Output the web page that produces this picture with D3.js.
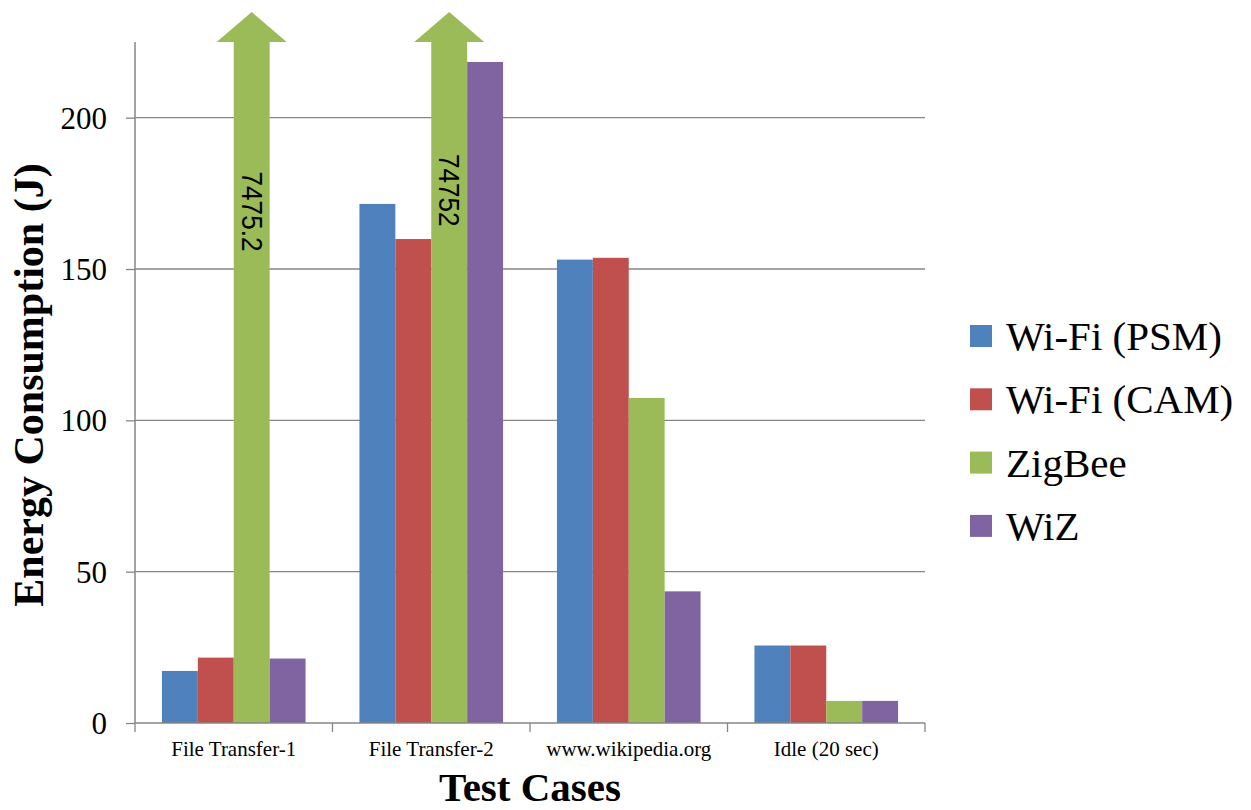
<!DOCTYPE html>
<html>
<head>
<meta charset="utf-8">
<script src="https://cdn.jsdelivr.net/npm/d3@7"></script>
<style>
  html, body { margin: 0; padding: 0; background: #fff; }
  svg { display: block; }
  text { fill: #000; }
</style>
</head>
<body>
<svg id="chart" width="1251" height="810"></svg>
<script>
// Test cases on the x axis
const categories = ["File Transfer-1", "File Transfer-2", "www.wikipedia.org", "Idle (20 sec)"];

// Energy consumption per radio, in joules
const wifiPSM = [17.2, 171.5, 153.1, 25.6];
const wifiCAM = [21.6, 159.9, 153.7, 25.6];
const zigbee  = [7475.2, 74752, 107.4, 7.3];
const wiz     = [21.3, 218.4, 43.5, 7.3];

const seriesNames = ["Wi-Fi (PSM)", "Wi-Fi (CAM)", "ZigBee", "WiZ"];
const seriesValues = [wifiPSM, wifiCAM, zigbee, wiz];
const seriesColors = ["#4F81BD", "#C0504D", "#9BBB59", "#8064A2"];

const yTicks = [0, 50, 100, 150, 200];
const yMax = 225;

const svg = d3.select("#chart");
const plot = { left: 135, right: 925, top: 42, bottom: 723 };
const axisGrey = "#868686";

const x = d3.scaleBand().domain(categories).range([plot.left, plot.right]).padding(0);
const xs = d3.scaleBand().domain(seriesNames).range([0, x.bandwidth()])
  .paddingInner(0).paddingOuter(0.75);
const y = d3.scaleLinear().domain([0, yMax]).range([plot.bottom, plot.top]).clamp(true);

// horizontal gridlines
svg.append("g").selectAll("line")
  .data(yTicks.filter(d => d > 0))
  .join("line")
  .attr("x1", plot.left).attr("x2", plot.right)
  .attr("y1", d => y(d)).attr("y2", d => y(d))
  .attr("stroke", axisGrey).attr("stroke-width", 1.3);

// bars
const rows = [];
seriesValues.forEach((vals, si) => {
  vals.forEach((v, ci) => rows.push({ s: seriesNames[si], c: categories[ci], v, color: seriesColors[si] }));
});

svg.append("g").selectAll("rect")
  .data(rows)
  .join("rect")
  .attr("x", d => x(d.c) + xs(d.s))
  .attr("y", d => y(d.v))
  .attr("width", xs.bandwidth())
  .attr("height", d => y(0) - y(d.v))
  .attr("fill", d => d.color);

// off-scale values get an arrow head and a rotated value label
const overflow = rows.filter(d => d.v > yMax);
const headHalf = 35, headH = 30;
svg.append("g").selectAll("path")
  .data(overflow)
  .join("path")
  .attr("d", d => {
    const cx = x(d.c) + xs(d.s) + xs.bandwidth() / 2;
    const by = y(d.v);
    return `M${cx - headHalf},${by} L${cx},${by - headH} L${cx + headHalf},${by} Z`;
  })
  .attr("fill", d => d.color);

const labelCenter = { "File Transfer-1": 169, "File Transfer-2": 176 };
svg.append("g").selectAll("text")
  .data(overflow)
  .join("text")
  .attr("transform", d => {
    const cx = x(d.c) + xs(d.s) + xs.bandwidth() / 2;
    return `translate(${cx},${y(labelCenter[d.c] || 170)}) rotate(90) scale(0.87,1)`;
  })
  .attr("text-anchor", "middle")
  .attr("dominant-baseline", "central")
  .style("font-family", "'Liberation Sans', Arial, sans-serif")
  .style("font-size", "30px")
  .text(d => String(d.v));

// y axis
const yAxis = d3.axisLeft(y).tickValues(yTicks).tickSize(9).tickPadding(19).tickFormat(d3.format("d"));
const gy = svg.append("g").attr("transform", `translate(${plot.left},0)`).call(yAxis);
gy.select(".domain").remove();
gy.selectAll(".tick line").attr("stroke", axisGrey).attr("stroke-width", 1.3);
gy.selectAll(".tick text")
  .attr("dy", "0.34em")
  .style("font-family", "'Liberation Serif', 'Times New Roman', serif")
  .style("font-size", "31px")
  .attr("fill", "#000");
svg.append("line")
  .attr("x1", plot.left).attr("x2", plot.left)
  .attr("y1", plot.top).attr("y2", plot.bottom)
  .attr("stroke", axisGrey).attr("stroke-width", 1.5);

// x axis
const xAxis = d3.axisBottom(x).tickSize(0).tickPadding(18);
const gx = svg.append("g").attr("transform", `translate(0,${plot.bottom})`).call(xAxis);
gx.select(".domain").remove();
gx.selectAll(".tick text")
  .style("font-family", "'Liberation Serif', 'Times New Roman', serif")
  .style("font-size", "21px")
  .attr("fill", "#000");
svg.append("line")
  .attr("x1", plot.left).attr("x2", plot.right)
  .attr("y1", plot.bottom).attr("y2", plot.bottom)
  .attr("stroke", axisGrey).attr("stroke-width", 1.5);
const boundaries = categories.map(c => x(c)).concat([x(categories[categories.length - 1]) + x.bandwidth()]);
svg.append("g").selectAll("line")
  .data(boundaries)
  .join("line")
  .attr("x1", d => d).attr("x2", d => d)
  .attr("y1", plot.bottom).attr("y2", plot.bottom + 9)
  .attr("stroke", axisGrey).attr("stroke-width", 1.3);

// axis titles
svg.append("text")
  .attr("transform", `translate(43,385) rotate(-90)`)
  .attr("text-anchor", "middle")
  .style("font-family", "'Liberation Serif', 'Times New Roman', serif")
  .style("font-weight", "bold")
  .style("font-size", "42px")
  .text("Energy Consumption (J)");

svg.append("text")
  .attr("x", (plot.left + plot.right) / 2)
  .attr("y", 801)
  .attr("text-anchor", "middle")
  .style("font-family", "'Liberation Serif', 'Times New Roman', serif")
  .style("font-weight", "bold")
  .style("font-size", "41px")
  .text("Test Cases");

// legend
const legend = svg.append("g").attr("transform", "translate(970,325)");
const items = legend.selectAll("g")
  .data(seriesNames)
  .join("g")
  .attr("transform", (d, i) => `translate(0,${i * 63.3})`);
items.append("rect")
  .attr("width", 22).attr("height", 22)
  .attr("fill", (d, i) => seriesColors[i]);
items.append("text")
  .attr("x", 36).attr("y", 25)
  .style("font-family", "'Liberation Serif', 'Times New Roman', serif")
  .style("font-size", "41px")
  .text(d => d);
</script>
</body>
</html>
